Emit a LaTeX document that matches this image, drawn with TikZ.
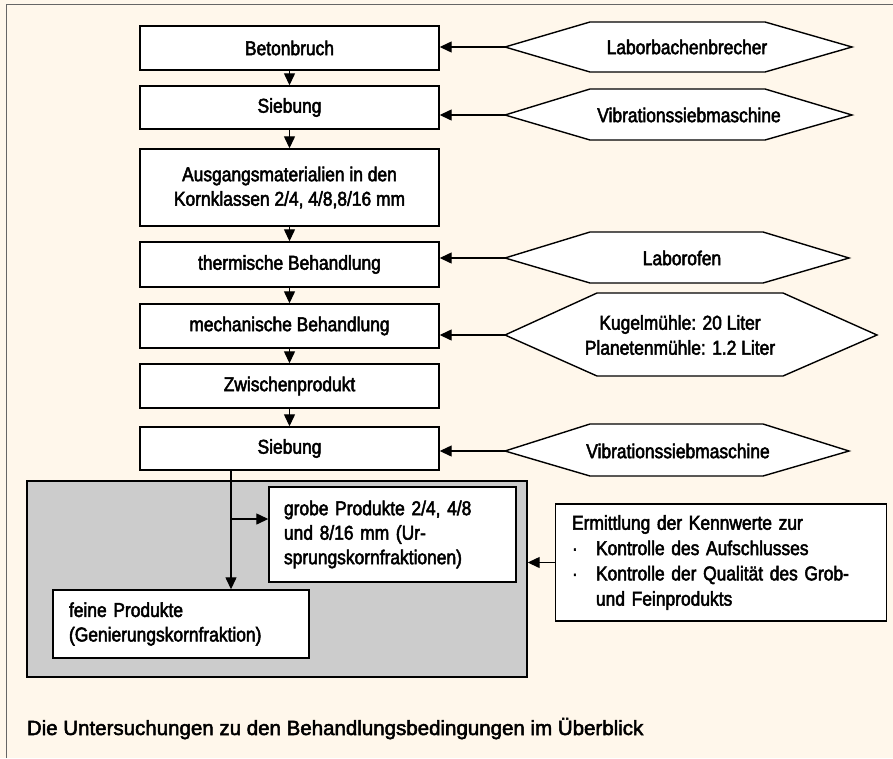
\documentclass[tikz,border=0pt]{standalone}
\usepackage{fontspec}
\setmainfont{Liberation Sans}[FakeStretch=0.87,FakeBold=2.5]
\newfontfamily\capfont{Liberation Sans}[FakeStretch=1.0,FakeBold=2.5]
\usetikzlibrary{arrows.meta}
\definecolor{bgcream}{HTML}{FFF7EB}
\definecolor{framegray}{HTML}{666666}
\definecolor{panelgray}{HTML}{CCCCCC}
\begin{document}
\begin{tikzpicture}[x=1pt,y=-1pt,
  box/.style={draw=black, fill=white, line width=1.4pt, minimum width=299pt, inner sep=0pt, align=center, font=\fontsize{20}{24.5}\selectfont},
  tbox/.style={draw=black, fill=white, line width=1.4pt, inner ysep=0pt, align=left, font=\fontsize{20}{24.5}\selectfont},
  hex/.style={draw=black, fill=white, line width=1.4pt, line join=miter},
  lbl/.style={inner sep=0pt, align=center, font=\fontsize{20}{25}\selectfont},
  arr/.style={-{Triangle[length=12pt,width=11pt]}, line width=1.3pt}]
\path[fill=bgcream] (0,0) rectangle (893,758);
\useasboundingbox (0,0) rectangle (893,758);
\draw[framegray, line width=1.6pt] (6.5,758) -- (6.5,4.5) -- (893,4.5);

% main column
\node[box, minimum height=44pt] (b1) at (289.5,48) {Betonbruch};
\node[box, minimum height=43pt] (b2) at (289.5,107.5) {Siebung};
\node[box, minimum height=77pt] (b3) at (289.5,187.5) {Ausgangsmaterialien in den\\Kornklassen 2/4, 4/8,8/16 mm};
\node[box, minimum height=45pt] (b4) at (289.5,264.5) {thermische Behandlung};
\node[box, minimum height=44pt] (b5) at (289.5,326) {mechanische Behandlung};
\node[box, minimum height=44pt] (b6) at (289.5,386) {Zwischenprodukt};
\node[box, minimum height=43pt] (b7) at (289.5,448.5) {Siebung};
\draw[arr] (b1.south) -- (b2.north);
\draw[arr] (b2.south) -- (b3.north);
\draw[arr] (b3.south) -- (b4.north);
\draw[arr] (b4.south) -- (b5.north);
\draw[arr] (b5.south) -- (b6.north);
\draw[arr] (b6.south) -- (b7.north);

% hexagons
\coordinate (h1) at (505,47);
\draw[hex] (h1) -- (590,22) -- (765,22) -- (852,47) -- (765,72) -- (590,72) -- cycle;
\node[lbl] (t1) at (687,47) {Laborbachenbrecher};
\coordinate (h2) at (505,115);
\draw[hex] (h2) -- (590,89) -- (765,89) -- (852,115) -- (765,140) -- (590,140) -- cycle;
\node[lbl] (t2) at (689,115) {Vibrationssiebmaschine};
\coordinate (h3) at (505,258);
\draw[hex] (h3) -- (590,232) -- (763,232) -- (849,258) -- (763,283) -- (590,283) -- cycle;
\node[lbl] (t3) at (682,258) {Laborofen};
\coordinate (h4) at (505,335);
\draw[hex] (h4) -- (597,293) -- (783,293) -- (877,335) -- (783,376) -- (597,376) -- cycle;
\node[lbl] (t4) at (680,335) {Kugelmühle: 20 Liter\\Planetenmühle: 1.2 Liter};
\coordinate (h5) at (505,451);
\draw[hex] (h5) -- (590,424) -- (763,424) -- (849,451) -- (763,476) -- (590,476) -- cycle;
\node[lbl] (t5) at (678,451) {Vibrationssiebmaschine};
\draw[arr] (h1) -- (h1 -| b1.east);
\draw[arr] (h2) -- (h2 -| b2.east);
\draw[arr] (h3) -- (h3 -| b4.east);
\draw[arr] (h4) -- (h4 -| b5.east);
\draw[arr] (h5) -- (h5 -| b7.east);

% products panel
\node[draw=black, fill=panelgray, line width=1.4pt, minimum width=500pt, minimum height=196pt, inner sep=0pt] (panel) at (277,579) {};
\node[tbox, text width=217pt, inner xsep=15pt, minimum height=95pt] (grobe) at (392.5,534.5) {grobe Produkte 2/4, 4/8\\und 8/16 mm (Ur-\\sprungskornfraktionen)};
\node[tbox, text width=224pt, inner xsep=16pt, minimum height=68pt] (feine) at (181,624) {feine Produkte\\(Genierungskornfraktion)};
\coordinate (split) at (231,470);
\coordinate (branch) at (231,519);
\draw[arr] (split) -- (split |- feine.north);
\draw[arr] (branch) -- (branch -| grobe.west);

% Ermittlung
\node[tbox, text width=298pt, inner xsep=16.7pt, minimum height=117pt, font=\fontsize{20}{25.3}\selectfont] (erm) at (721,562.5) {Ermittlung der Kennwerte zur\\\makebox[24pt][l]{·}Kontrolle des Aufschlusses\\\makebox[24pt][l]{·}Kontrolle der Qualität des Grob-\\\hspace*{24pt}und Feinprodukts};
\draw[arr] (erm.west) -- (erm.west -| panel.east);

% caption
\node[anchor=base west, inner sep=0pt, font=\capfont\fontsize{20.5}{23}\selectfont] (cap) at (26.7,735) {Die Untersuchungen zu den Behandlungsbedingungen im Überblick};
\end{tikzpicture}
\end{document}
